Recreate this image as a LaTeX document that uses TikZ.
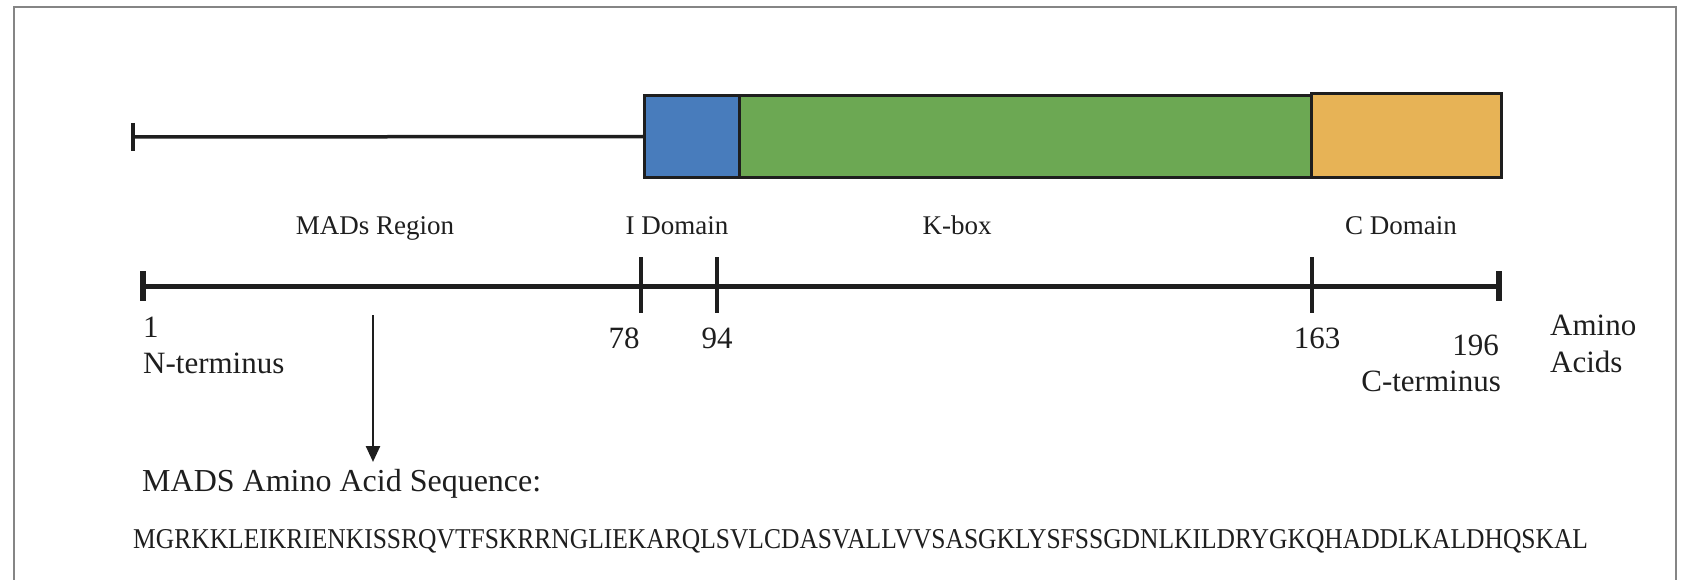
\documentclass[tikz,border=0pt]{standalone}
\usepackage{fontspec}
\setmainfont{Liberation Serif}
\usetikzlibrary{arrows.meta}
\definecolor{frameg}{HTML}{858585}
\definecolor{ink}{HTML}{1E1E1E}
\definecolor{iblue}{HTML}{487CBC}
\definecolor{kgreen}{HTML}{6CA853}
\definecolor{corange}{HTML}{E7B356}
\tikzset{
  dombox/.style={draw=ink, line width=3pt, inner sep=0pt, outer sep=0pt, minimum height=82pt},
  lbl/.style={font=\fontsize{27}{30}\selectfont, text=ink, inner sep=0pt, anchor=base},
  num/.style={font=\fontsize{31}{37}\selectfont, text=ink, inner sep=0pt},
  axisline/.style={draw=ink, line width=5pt},
  endtick/.style={draw=ink, line width=6pt},
  midtick/.style={draw=ink, line width=3.5pt},
  thinline/.style={draw=ink, line width=3.5pt},
}
\begin{document}
\begin{tikzpicture}[x=1pt,y=-1pt]
\useasboundingbox (0,0) rectangle (1691,580);
% frame
\draw[frameg, line width=2.5pt] (14,580) -- (14,7) -- (1676,7) -- (1676,580);

% domain bar
\node[dombox, fill=iblue, minimum width=95pt] (idom) at (691.5,136.5) {};
\node[dombox, fill=kgreen, minimum width=572pt] (kbox) at (1025,136.5) {};
\node[dombox, fill=corange, minimum width=190pt, minimum height=84pt] (cdom) at (1406,136) {};
\coordinate (nstart) at (133,137);
\draw[thinline] (nstart) -- (idom.west);
\draw[thinline] (nstart) ++(0,-14) -- ++(0,28);

% region labels
\node[lbl] (lmads) at (375,234) {MADs Region};
\node[lbl] (lidom) at (677,234) {I Domain};
\node[lbl] (lkbox) at (957,234) {K-box};
\node[lbl] (lcdom) at (1401,234) {C Domain};

% axis
\coordinate (a1) at (143,286);
\coordinate (a78) at (641,286);
\coordinate (a94) at (717,286);
\coordinate (a163) at (1312,286);
\coordinate (a196) at (1499,286);
\draw[axisline] (a1) -- (a196);
\draw[endtick] (a1) ++(0,-15) -- ++(0,30);
\draw[endtick] (a196) ++(0,-15) -- ++(0,30);
\draw[midtick] (a78) ++(0,-29) -- ++(0,56);
\draw[midtick] (a94) ++(0,-29) -- ++(0,56);
\draw[midtick] (a163) ++(0,-29) -- ++(0,56);

% numbers
\node[num, anchor=base west] (n1) at (143,337) {1};
\node[num, anchor=base west] (nterm) at (143,373) {N-terminus};
\node[num, anchor=base] (n78) at (624,348) {78};
\node[num, anchor=base] (n94) at (717,348) {94};
\node[num, anchor=base] (n163) at (1317,348) {163};
\node[num, anchor=base east] (n196) at (1499,355) {196};
\node[num, anchor=base east] (cterm) at (1501,391) {C-terminus};
\node[num, anchor=base west] (amino) at (1550,335) {Amino};
\node[num, anchor=base west] (acids) at (1550,372) {Acids};

% arrow
\coordinate (arrs) at (373,315);
\coordinate (arre) at (373,462);
\draw[ink, line width=2.5pt, -{Triangle[length=16pt,width=14pt]}] (arrs) -- (arre);

% sequence
\node[font=\fontsize{32}{36}\selectfont, text=ink, inner sep=0pt, anchor=base west] (head) at (142,491) {MADS Amino Acid Sequence:};
\node[text=ink, inner sep=0pt, anchor=base west] (seq) at (133,548) {\resizebox{1455pt}{19pt}{\fontsize{28}{30}\selectfont MGRKKLEIKRIENKISSRQVTFSKRRNGLIEKARQLSVLCDASVALLVVSASGKLYSFSSGDNLKILDRYGKQHADDLKALDHQSKAL}};
\end{tikzpicture}
\end{document}
